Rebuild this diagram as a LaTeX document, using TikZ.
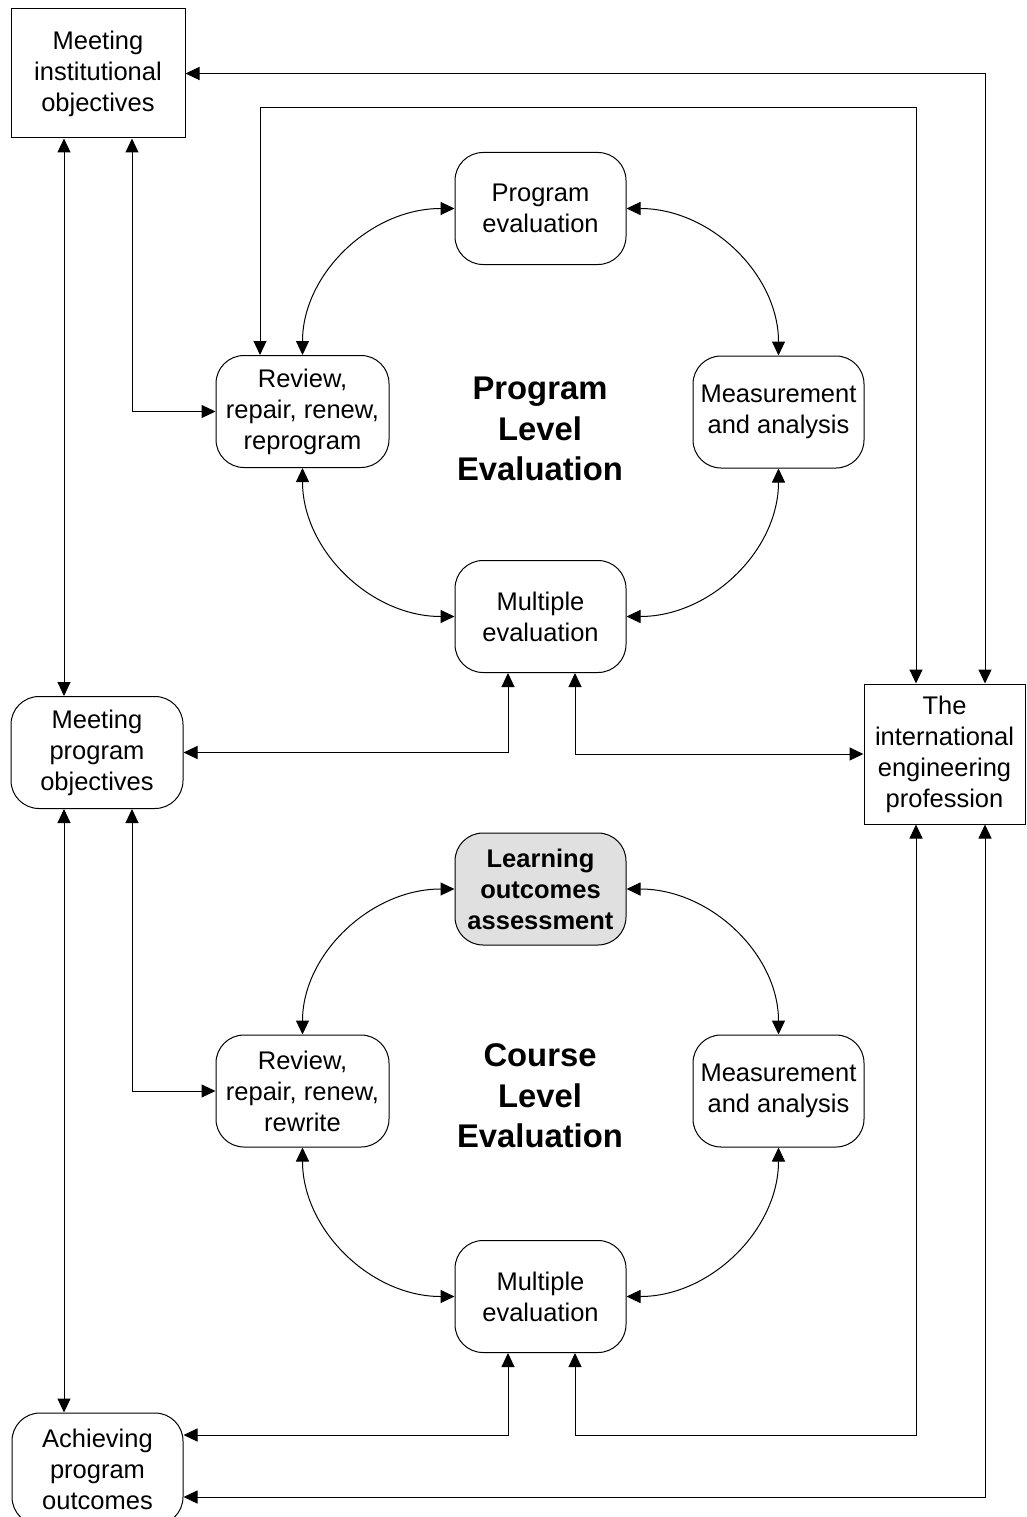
\documentclass[tikz,border=0pt]{standalone}
\usepackage{fontspec}
\setmainfont{Liberation Sans}
\usetikzlibrary{arrows.meta}
\definecolor{loagray}{RGB}{224,224,224}
\tikzset{
  box/.style={draw, line width=1pt, inner sep=0pt, align=center,
    font=\fontsize{25.5}{31}\selectfont},
  rbox/.style={box, rounded corners=28pt, minimum width=171pt, minimum height=112pt},
  dbl/.style={line width=1pt, {Triangle[length=14pt,width=13pt]}-{Triangle[length=14pt,width=13pt]}},
  bigtitle/.style={font=\bfseries\fontsize{32.8}{40.5}\selectfont, align=center},
}
\begin{document}
\begin{tikzpicture}[x=1pt,y=-1pt]
\useasboundingbox (0,0) rectangle (1026,1517);
% x positions of vertical connectors
\coordinate (x64) at (64,0);
\coordinate (x132) at (132,0);
\coordinate (x260) at (260,0);
\coordinate (x508) at (508,0);
\coordinate (x575) at (575,0);
\coordinate (x916) at (916,0);
\coordinate (x985) at (985,0);
\coordinate (t2) at (916,108);
\coordinate (b1) at (0,1435);
\coordinate (b2) at (0,1497);

% outer nodes
\node[box, minimum width=174pt, minimum height=129pt] (inst) at (98,73.5) {Meeting\\institutional\\objectives};
\node[rbox, minimum width=172pt] (mpo) at (97,752.5) {Meeting\\program\\objectives};
\node[rbox, minimum width=171pt] (apo) at (97.5,1469) {Achieving\\program\\outcomes};
\node[box, minimum width=161pt, minimum height=140pt] (intl) at (944.5,754) {The\\international\\engineering\\profession};

% program level
\node[rbox] (pe) at (540.5,208.5) {Program\\evaluation};
\node[rbox, minimum width=173pt] (rev1) at (302.5,411.5) {Review,\\repair, renew,\\reprogram};
\node[rbox] (meas1) at (778.5,412) {Measurement\\and analysis};
\node[rbox] (multi1) at (540.5,616.5) {Multiple\\evaluation};
\node[bigtitle] (plt) at (540,429) {Program\\Level\\Evaluation};

% course level
\node[rbox, fill=loagray, font=\bfseries\fontsize{25.5}{31}\selectfont] (loa) at (540.5,889) {Learning\\outcomes\\assessment};
\node[rbox, minimum width=173pt] (rev2) at (302.5,1091) {Review,\\repair, renew,\\rewrite};
\node[rbox] (meas2) at (778.5,1091) {Measurement\\and analysis};
\node[rbox] (multi2) at (540.5,1296.5) {Multiple\\evaluation};
\node[bigtitle] (clt) at (540,1096) {Course\\Level\\Evaluation};

% program cycle
\draw[dbl] (rev1.north) .. controls +(0,-81) and +(-84,0) .. (pe.west);
\draw[dbl] (pe.east) .. controls +(84,0) and +(0,-81) .. (meas1.north);
\draw[dbl] (meas1.south) .. controls +(0,82) and +(84,0) .. (multi1.east);
\draw[dbl] (rev1.south) .. controls +(0,82) and +(-84,0) .. (multi1.west);

% course cycle
\draw[dbl] (rev2.north) .. controls +(0,-80) and +(-84,0) .. (loa.west);
\draw[dbl] (loa.east) .. controls +(84,0) and +(0,-80) .. (meas2.north);
\draw[dbl] (meas2.south) .. controls +(0,82) and +(84,0) .. (multi2.east);
\draw[dbl] (rev2.south) .. controls +(0,82) and +(-84,0) .. (multi2.west);

% outer connectors
\draw[dbl] (inst.east) -| (intl.north -| x985);
\draw[dbl] (rev1.north -| x260) |- (t2) -- (intl.north -| t2);
\draw[dbl] (inst.south -| x64) -- (mpo.north -| x64);
\draw[dbl] (inst.south -| x132) |- (rev1.west);
\draw[dbl] (multi1.south -| x508) |- (mpo.east);
\draw[dbl] (multi1.south -| x575) |- (intl.west);
\draw[dbl] (mpo.south -| x64) -- (apo.north -| x64);
\draw[dbl] (mpo.south -| x132) |- (rev2.west);
\draw[dbl] (multi2.south -| x508) |- (apo.east |- b1);
\draw[dbl] (multi2.south -| x575) |- (b1 -| x916) -- (intl.south -| x916);
\draw[dbl] (apo.east |- b2) -| (intl.south -| x985);
\end{tikzpicture}
\end{document}
